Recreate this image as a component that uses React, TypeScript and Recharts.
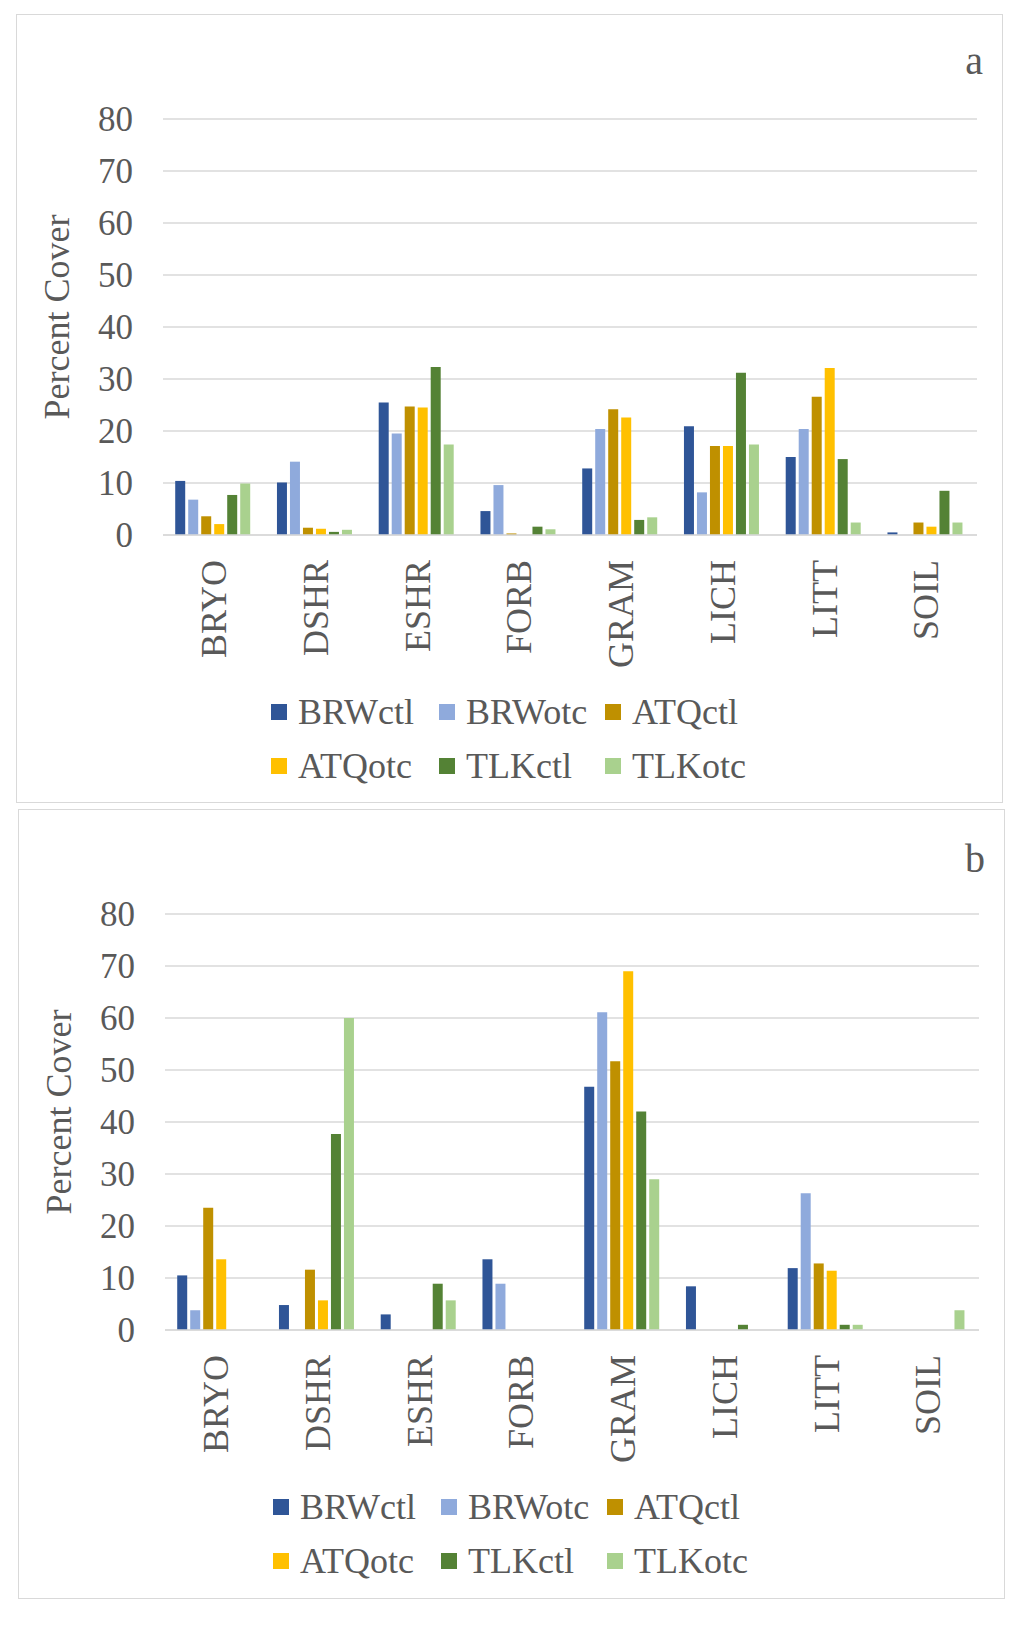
import { BarChart, Bar, XAxis, YAxis, CartesianGrid } from "recharts";

const categories = ["BRYO", "DSHR", "ESHR", "FORB", "GRAM", "LICH", "LITT", "SOIL"];
const seriesNames = ["BRWctl", "BRWotc", "ATQctl", "ATQotc", "TLKctl", "TLKotc"];
const seriesColors = ["#2F5597", "#8FAADC", "#BF9000", "#FFC000", "#548235", "#A9D18E"];
const yTicks = [0, 10, 20, 30, 40, 50, 60, 70, 80];

// panel a
const aBRWctl = [10.4, 10.1, 25.5, 4.6, 12.8, 20.9, 15.0, 0.5];
const aBRWotc = [6.8, 14.1, 19.5, 9.6, 20.4, 8.2, 20.4, 0];
const aATQctl = [3.6, 1.4, 24.7, 0.3, 24.2, 17.1, 26.6, 2.4];
const aATQotc = [2.1, 1.2, 24.5, 0, 22.6, 17.1, 32.1, 1.6];
const aTLKctl = [7.7, 0.6, 32.3, 1.6, 2.9, 31.2, 14.6, 8.5];
const aTLKotc = [9.9, 1.0, 17.4, 1.1, 3.4, 17.4, 2.4, 2.4];

// panel b
const bBRWctl = [10.5, 4.8, 3.0, 13.6, 46.8, 8.4, 11.9, 0];
const bBRWotc = [3.8, 0, 0, 8.9, 61.1, 0, 26.3, 0];
const bATQctl = [23.5, 11.6, 0, 0, 51.7, 0, 12.8, 0];
const bATQotc = [13.6, 5.7, 0, 0, 69.0, 0, 11.4, 0];
const bTLKctl = [0, 37.7, 8.9, 0, 42.0, 1.0, 1.0, 0];
const bTLKotc = [0, 60.0, 5.7, 0, 29.0, 0, 1.0, 3.8];

const FONT = '"Liberation Serif", "Times New Roman", serif';
const TEXT = "#595959";
const GRID = "#d9d9d9";

function buildRows(series: number[][]) {
  return categories.map((cat, i) => {
    const row: Record<string, string | number> = { cat };
    seriesNames.forEach((name, s) => {
      row[name] = series[s][i];
    });
    return row;
  });
}

const dataA = buildRows([aBRWctl, aBRWotc, aATQctl, aATQotc, aTLKctl, aTLKotc]);
const dataB = buildRows([bBRWctl, bBRWotc, bATQctl, bATQotc, bTLKctl, bTLKotc]);

function CategoryTick({ x, y, payload }: { x?: number; y?: number; payload?: { value: string } }) {
  const ty = (y ?? 0) + 23;
  return (
    <text
      x={x}
      y={ty}
      dy="0.34em"
      transform={`rotate(-90 ${x} ${ty})`}
      textAnchor="end"
      fill={TEXT}
      fontSize={36}
      fontFamily={FONT}
    >
      {payload?.value}
    </text>
  );
}

function AxisTitle({ viewBox }: { viewBox?: { x: number; y: number; width: number; height: number } }) {
  if (!viewBox) return null;
  const cx = 53;
  const cy = viewBox.y + viewBox.height / 2 - 10;
  return (
    <text
      x={cx}
      y={cy}
      transform={`rotate(-90 ${cx} ${cy})`}
      textAnchor="middle"
      fill={TEXT}
      fontSize={36}
      fontFamily={FONT}
    >
      Percent Cover
    </text>
  );
}

function Legend2() {
  return (
    <div
      style={{
        position: "absolute",
        left: 254,
        top: 670,
        display: "grid",
        gridTemplateColumns: "168px 166px 180px",
        gridAutoRows: "54px",
        fontFamily: FONT,
        fontSize: 36,
        color: TEXT,
      }}
    >
      {seriesNames.map((name, i) => (
        <div key={name} style={{ display: "flex", alignItems: "center", whiteSpace: "nowrap" }}>
          <span
            style={{ width: 16, height: 16, background: seriesColors[i], marginRight: 11, flex: "none" }}
          />
          {name}
        </div>
      ))}
    </div>
  );
}

function Panel({
  data,
  letter,
  left,
  top,
  height,
  letterY,
}: {
  data: Record<string, string | number>[];
  letter: string;
  left: number;
  top: number;
  height: number;
  letterY: number;
}) {
  const width = 987;
  return (
    <div
      style={{
        position: "absolute",
        left,
        top,
        width,
        height,
        boxSizing: "border-box",
        border: `1.5px solid ${GRID}`,
        background: "#fff",
      }}
    >
      <div style={{ position: "absolute", left: -1.5, top: -1.5 }}>
        <BarChart
          width={width}
          height={height}
          data={data}
          margin={{ top: 105, right: 26, left: 0, bottom: height - 521 - 150 }}
          barCategoryGap="12%"
          barGap={3}
        >
          <text x={967} y={letterY} textAnchor="end" fill={TEXT} fontSize={40} fontFamily={FONT}>
            {letter}
          </text>
          <CartesianGrid vertical={false} stroke={GRID} strokeWidth={1.5} />
          <XAxis
            dataKey="cat"
            height={150}
            tickLine={false}
            tickSize={0}
            axisLine={{ stroke: GRID, strokeWidth: 1.5 }}
            tick={<CategoryTick />}
            interval={0}
          />
          <YAxis
            width={147}
            domain={[0, 80]}
            ticks={yTicks}
            axisLine={false}
            tickLine={false}
            tickSize={0}
            tickMargin={30}
            tick={{ fill: TEXT, fontSize: 35, fontFamily: FONT }}
            label={<AxisTitle />}
          />
          {seriesNames.map((name, i) => (
            <Bar key={name} dataKey={name} fill={seriesColors[i]} isAnimationActive={false} />
          ))}
        </BarChart>
      </div>
      <Legend2 />
    </div>
  );
}

export default function App() {
  return (
    <div style={{ position: "absolute", left: 0, top: 0, width: 1024, height: 1629, background: "#fff" }}>
      <Panel data={dataA} letter="a" left={16} top={14} height={789} letterY={60} />
      <Panel data={dataB} letter="b" left={18} top={809} height={790} letterY={63} />
    </div>
  );
}
